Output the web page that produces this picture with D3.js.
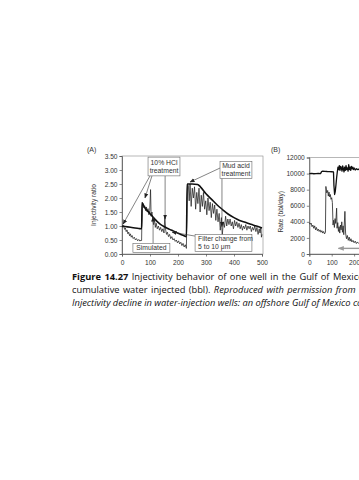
<!DOCTYPE html>
<html><head><meta charset="utf-8">
<script src="https://cdn.jsdelivr.net/npm/d3@7"></script>
<style>body{margin:0;background:#fff;overflow:hidden}svg{display:block}</style>
</head><body>
<script>
// ---------- Panel A data (cumulative water injected vs injectivity ratio) ----------
const yTicksA = [0, 0.5, 1.0, 1.5, 2.0, 2.5, 3.0, 3.5];
const xTicksA = [0, 100, 200, 300, 400, 500];
const measuredA = [
  [0,1.00],[3,0.95],[6,1.02],[9,0.88],[12,0.93],[15,0.80],[18,0.86],[21,0.72],[24,0.78],[27,0.65],
  [30,0.72],[33,0.60],[36,0.66],[40,0.55],[44,0.60],[48,0.50],[52,0.55],[56,0.47],[60,0.52],[64,0.46],
  [68,0.50],[70,0.48],[72,1.85],[75,1.80],[78,1.65],[81,1.72],[84,1.55],[87,1.68],[90,1.50],[93,1.62],
  [96,1.40],[99,1.55],[102,2.30],[104,1.35],[107,1.50],[110,1.20],[113,1.05],[116,1.25],[119,0.95],
  [122,1.10],[126,0.90],[130,1.00],[134,0.85],[138,0.95],[142,0.80],[146,0.90],[150,0.75],[153,1.35],
  [156,0.85],[159,0.70],[162,0.78],[166,0.62],[170,0.70],[174,0.55],[178,0.62],[182,0.50],[186,0.55],
  [190,0.45],[194,0.50],[198,0.40],[202,0.47],[206,0.36],[210,0.42],[214,0.30],[218,0.38],[222,0.25],
  [226,0.33],[230,0.20],[233,2.50],[237,2.45],[240,1.90],[243,2.50],[247,1.70],[251,2.35],[255,2.00],
  [259,2.40],[263,1.60],[267,2.20],[271,1.80],[275,2.35],[279,1.50],[283,2.10],[287,1.70],[291,2.20],
  [295,1.60],[299,1.90],[303,1.40],[307,2.00],[311,1.55],[315,1.85],[319,1.30],[323,1.80],[327,1.45],
  [331,1.75],[335,1.20],[339,1.60],[343,1.15],[347,1.45],[351,0.85],[355,1.30],[358,0.65],[362,1.15],
  [366,0.95],[370,1.35],[374,1.00],[378,1.25],[382,1.05],[386,1.25],[390,1.00],[394,1.15],
  [398,0.90],[402,1.20],[406,1.00],[410,1.15],[414,0.95],[418,1.10],[422,0.90],[426,1.05],[430,0.85],
  [434,1.00],[438,0.90],[442,1.05],[446,0.85],[450,1.00],[454,0.90],[458,1.00],[462,0.80],[466,0.95],
  [470,0.85],[474,1.00],[478,0.80],[482,0.95],[486,0.70],[490,0.90],[493,0.75],[496,0.95],[498,0.60],[500,0.70]
];
const simulatedA = [
  [0,1.00],[20,0.97],[40,0.94],[60,0.91],[70,0.90],[72,1.82],[80,1.68],[90,1.55],[100,1.44],[110,1.33],
  [120,1.22],[130,1.12],[140,1.04],[150,0.98],[160,0.93],[170,0.88],[180,0.84],[190,0.79],[200,0.74],
  [210,0.70],[220,0.66],[230,0.62],[233,2.50],[250,2.50],[270,2.48],[280,2.40],[300,2.15],[320,1.95],
  [340,1.75],[360,1.58],[380,1.42],[400,1.30],[420,1.20],[440,1.13],[460,1.06],[480,1.00],[500,0.93]
];

// ---------- Panel B data (cumulative water injected vs rate) ----------
const yTicksB = [0, 2000, 4000, 6000, 8000, 10000, 12000];
const xTicksB = [0, 100, 200];
const upperB = [
  [0,10000],[10,10020],[20,9980],[30,10000],[40,10010],[50,10000],[55,10250],[60,10300],[70,10280],
  [80,10260],[90,10250],[100,10230],[108,10200],[110,8500],[113,7400],[116,7800],[119,8600],[122,9500],
  [125,10200],[128,10800],[131,10500],[134,11000],[137,10400],[140,10900],[143,10700],[146,10300],
  [149,10950],[152,10600],[155,10200],[158,10800],[161,10400],[164,11000],[167,10500],[170,10700],
  [173,10300],[176,11100],[179,10500],[182,10800],[185,10400],[188,10900],[191,10600],[194,10800],
  [197,10500],[200,10700],[205,10450],[210,10600],[215,10500],[220,10550],[225,10400],[230,10500]
];
const lowerB = [
  [0,3900],[4,3700],[8,3850],[12,3400],[16,3600],[20,3200],[24,3500],[28,3000],[32,3300],[36,2900],
  [40,3100],[44,2800],[48,3000],[52,2700],[56,2900],[60,2600],[64,2800],[68,2500],[72,2700],[74,8400],
  [78,7600],[82,7900],[85,7200],[88,7700],[91,7100],[94,7400],[97,6800],[100,7000],[103,6400],[106,3600],
  [109,4200],[112,3300],[115,4400],[118,3800],[122,5700],[124,3200],[127,3900],[130,2800],[133,3400],
  [136,2600],[139,3600],[142,3000],[145,4000],[148,2700],[151,3500],[154,2400],[159,5300],[162,2600],
  [166,1900],[170,2300],[174,1700],[178,2100],[182,1600],[186,1900],[190,1500],[195,1700],[200,1400],
  [205,1600],[210,1300],[215,1500],[220,1300]
];

// ---------- Annotations (panel A, in data units) ----------
const boxesA = [
  {x0:93, x1:207, y0:2.79, y1:3.46, lines:["10% HCl","treatment"], align:"middle"},
  {x0:350, x1:464, y0:2.70, y1:3.30, lines:["Mud acid","treatment"], align:"middle"},
  {x0:39, x1:171, y0:0.05, y1:0.375, lines:["Simulated"], align:"middle"},
  {x0:261, x1:464, y0:0.09, y1:0.70, lines:["Filter change from","5 to 10 \u03bcm"], align:"start"}
];
const arrowsA = [
  [[100,2.79],[4,1.07]],
  [[107,2.79],[82,2.0]],
  [[154,2.79],[154,1.25]],
  [[350,3.07],[243,2.57]],
  [[357,2.70],[357,0.98]],
  [[111,0.375],[111,1.32]],
  [[261,0.64],[179,0.78]]
];
const captionLines = [
  [{t:"Figure 14.27 ", w:"bold"}, {t:"Injectivity behavior of one well in the Gulf of Mexico: (A) injectivity ratio"}],
  [{t:"cumulative water injected (bbl). "}, {t:"Reproduced with permission from", s:"italic"}],
  [{t:"Injectivity decline in water-injection wells: an offshore Gulf of Mexico case study", s:"italic"}]
];

const W = 359, H = 480;
const svg = d3.select("body").append("svg").attr("width", W).attr("height", H);
svg.append("rect").attr("width", W).attr("height", H).attr("fill", "#fff");

const defs = svg.append("defs");
defs.append("marker").attr("id","ah").attr("viewBox","0 0 10 10").attr("refX",9).attr("refY",5)
  .attr("markerWidth",5).attr("markerHeight",5).attr("markerUnits","userSpaceOnUse").attr("orient","auto")
  .append("path").attr("d","M0,1 L10,5 L0,9 Z").attr("fill","#222");
defs.append("marker").attr("id","ahg").attr("viewBox","0 0 10 10").attr("refX",9).attr("refY",5)
  .attr("markerWidth",6).attr("markerHeight",6).attr("markerUnits","userSpaceOnUse").attr("orient","auto")
  .append("path").attr("d","M0,1 L10,5 L0,9 Z").attr("fill","#999");

const tickFont = "Liberation Sans, Arial, sans-serif";

function styleAxis(g) {
  g.select(".domain").attr("stroke", "#555").attr("stroke-width", 0.8);
  g.selectAll(".tick line").attr("stroke", "#555").attr("stroke-width", 0.7);
  g.selectAll(".tick text").attr("fill", "#333").style("font-family", tickFont).style("font-size", "6.6px");
}

// ---------- Panel A ----------
const xA = d3.scaleLinear().domain([0, 500]).range([122, 262]);
const yA = d3.scaleLinear().domain([0, 3.5]).range([254, 156]);

svg.append("rect").attr("x", xA(0)).attr("y", yA(3.5)).attr("width", xA(500) - xA(0) + 1)
  .attr("height", yA(0) - yA(3.5)).attr("fill", "none").attr("stroke", "#888").attr("stroke-width", 0.6);

svg.append("g").attr("transform", `translate(${xA(0)},0)`)
  .call(d3.axisLeft(yA).tickValues(yTicksA).tickFormat(d3.format(".2f")).tickSize(2.5).tickPadding(2))
  .call(styleAxis);
svg.append("g").attr("transform", `translate(0,${yA(0)})`)
  .call(d3.axisBottom(xA).tickValues(xTicksA).tickFormat(d3.format("d")).tickSize(2.5).tickPadding(4))
  .call(styleAxis);

svg.append("text").attr("transform", `translate(96,${(yA(0)+yA(3.5))/2}) rotate(-90)`)
  .attr("text-anchor", "middle").attr("fill", "#333").style("font-family", tickFont).style("font-size", "6.6px")
  .text("Injectivity ratio");
svg.append("text").attr("x", 87).attr("y", 152).attr("fill", "#333")
  .style("font-family", tickFont).style("font-size", "7px").text("(A)");

const lineA = d3.line().x(d => xA(d[0])).y(d => yA(d[1]));
svg.append("path").datum(measuredA).attr("d", lineA).attr("fill", "none")
  .attr("stroke", "#222").attr("stroke-width", 0.75).attr("stroke-linejoin", "round");
svg.append("path").datum(simulatedA).attr("d", d3.line().x(d => xA(d[0])).y(d => yA(d[1])).curve(d3.curveMonotoneX))
  .attr("fill", "none").attr("stroke", "#111").attr("stroke-width", 1.6).attr("stroke-linejoin", "round");

// annotations
arrowsA.forEach(a => {
  svg.append("line").attr("x1", xA(a[0][0])).attr("y1", yA(a[0][1])).attr("x2", xA(a[1][0])).attr("y2", yA(a[1][1]))
    .attr("stroke", "#333").attr("stroke-width", 0.6).attr("marker-end", "url(#ah)");
});
boxesA.forEach(b => {
  const x0 = xA(b.x0), x1 = xA(b.x1), y0 = yA(b.y1), y1 = yA(b.y0);
  svg.append("rect").attr("x", x0).attr("y", y0).attr("width", x1 - x0).attr("height", y1 - y0)
    .attr("fill", "#fff").attr("stroke", "#666").attr("stroke-width", 0.6);
  const n = b.lines.length, lh = 8;
  const cy = (y0 + y1) / 2 - (n - 1) * lh / 2;
  b.lines.forEach((t, i) => {
    svg.append("text").attr("x", b.align === "middle" ? (x0 + x1) / 2 : x0 + 3)
      .attr("y", cy + i * lh + 2.4).attr("text-anchor", b.align).attr("fill", "#333")
      .style("font-family", tickFont).style("font-size", "6.8px").text(t);
  });
});

// ---------- Panel B ----------
const xB = d3.scaleLinear().domain([0, 500]).range([309.3, 421.3]);
const yB = d3.scaleLinear().domain([0, 12000]).range([254, 157.5]);

svg.append("rect").attr("x", xB(0)).attr("y", yB(12000)).attr("width", xB(500) - xB(0))
  .attr("height", yB(0) - yB(12000)).attr("fill", "none").attr("stroke", "#888").attr("stroke-width", 0.6);
svg.append("g").attr("transform", `translate(${xB(0)},0)`)
  .call(d3.axisLeft(yB).tickValues(yTicksB).tickFormat(d3.format("d")).tickSize(2.5).tickPadding(2))
  .call(styleAxis);
svg.append("g").attr("transform", `translate(0,${yB(0)})`)
  .call(d3.axisBottom(xB).tickValues(xTicksB).tickFormat(d3.format("d")).tickSize(2.5).tickPadding(4))
  .call(styleAxis);
svg.append("text").attr("transform", `translate(283,${(yB(0)+yB(12000))/2 + 6}) rotate(-90)`)
  .attr("text-anchor", "middle").attr("fill", "#333").style("font-family", tickFont).style("font-size", "6.6px")
  .text("Rate (bbl/day)");
svg.append("text").attr("x", 271).attr("y", 152).attr("fill", "#333")
  .style("font-family", tickFont).style("font-size", "7px").text("(B)");

const lineB = d3.line().x(d => xB(d[0])).y(d => yB(d[1]));
svg.append("path").datum(lowerB).attr("d", lineB).attr("fill", "none")
  .attr("stroke", "#222").attr("stroke-width", 0.8).attr("stroke-linejoin", "round");
svg.append("path").datum(upperB).attr("d", lineB).attr("fill", "none")
  .attr("stroke", "#111").attr("stroke-width", 1.3).attr("stroke-linejoin", "round");
svg.append("line").attr("x1", xB(230)).attr("y1", yB(700)).attr("x2", xB(130)).attr("y2", yB(700))
  .attr("stroke", "#999").attr("stroke-width", 1.4).attr("marker-end", "url(#ahg)");

// ---------- Caption ----------
const capFont = "'Open Sans', 'Noto Sans', sans-serif";
captionLines.forEach((segs, i) => {
  const t = svg.append("text").attr("x", 72).attr("y", 280 + i * 13).attr("fill", "#111")
    .style("font-family", capFont).style("font-size", "9.3px").attr("word-spacing", i < 2 ? "1px" : "0px");
  segs.forEach(s => {
    t.append("tspan").attr("font-weight", s.w || "normal").attr("font-style", s.s || "normal").text(s.t);
  });
});
</script>
</body></html>
